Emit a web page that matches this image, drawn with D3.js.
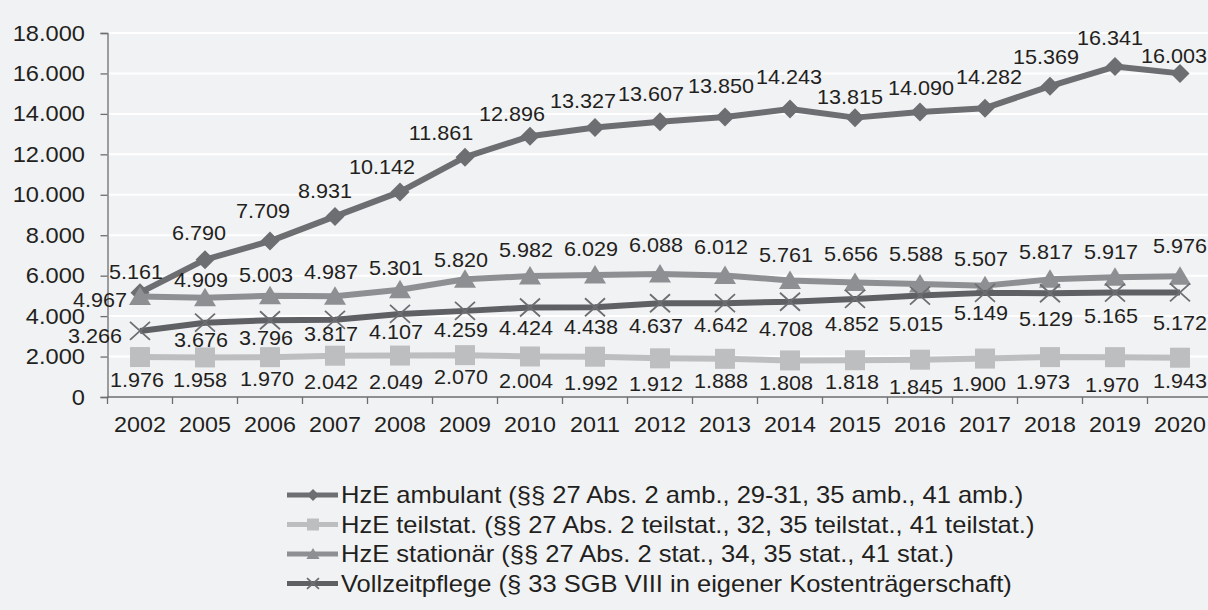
<!DOCTYPE html>
<html>
<head>
<meta charset="utf-8">
<script src="https://cdn.jsdelivr.net/npm/d3@7"></script>
<style>
  body { margin: 0; background: #f1f2f4; }
  svg { display: block; }
  text { font-family: "Liberation Sans", Arial, sans-serif; fill: #231f20; }
</style>
</head>
<body>
<svg id="chart" width="1208" height="610"></svg>
<script>
// Fallzahlen je Hilfeart, 2002 und 2005–2020
const years = ["2002", "2005", "2006", "2007", "2008", "2009", "2010", "2011", "2012",
               "2013", "2014", "2015", "2016", "2017", "2018", "2019", "2020"];
const ambulant = [5161, 6790, 7709, 8931, 10142, 11861, 12896, 13327, 13607,
                  13850, 14243, 13815, 14090, 14282, 15369, 16341, 16003];
const teilstationaer = [1976, 1958, 1970, 2042, 2049, 2070, 2004, 1992, 1912,
                        1888, 1808, 1818, 1845, 1900, 1973, 1970, 1943];
const stationaer = [4967, 4909, 5003, 4987, 5301, 5820, 5982, 6029, 6088,
                    6012, 5761, 5656, 5588, 5507, 5817, 5917, 5976];
const vollzeitpflege = [3266, 3676, 3796, 3817, 4107, 4259, 4424, 4438, 4637,
                        4642, 4708, 4852, 5015, 5149, 5129, 5165, 5172];
const yTicks = [0, 2000, 4000, 6000, 8000, 10000, 12000, 14000, 16000, 18000];
const seriesNames = [
  "HzE ambulant (§§ 27 Abs. 2 amb., 29-31, 35 amb., 41 amb.)",
  "HzE teilstat. (§§ 27 Abs. 2 teilstat., 32, 35 teilstat., 41 teilstat.)",
  "HzE stationär (§§ 27 Abs. 2 stat., 34, 35 stat., 41 stat.)",
  "Vollzeitpflege (§ 33 SGB VIII in eigener Kostenträgerschaft)"
];

// German number format: 16.341
const de = d3.formatLocale({ decimal: ",", thousands: ".", grouping: [3], currency: ["", " €"] });
const fmt = de.format(",d");

// Hand-placed data labels: [dx, dy] from each point (px), keeping labels clear of the lines
const labelNudgeAmbulant = [[-4, -21], [-6, -27], [-7, -30], [-10, -26], [-18, -25], [-24, -24],
  [-18, -22], [-12, -27], [-9, -28], [-4, -31], [-1, -32], [-5, -21], [1, -24], [4, -31],
  [-4, -29], [-5, -29], [0, -18]];
const labelNudgeTeilstat = [[-3, 23], [-5, 22], [-3, 22], [-4, 26], [-4, 26], [-4, 22],
  [-4, 24], [-4, 26], [-4, 25], [-4, 22], [-4, 22], [-3, 22], [-4, 27], [-6, 25],
  [-7, 25], [-3, 28], [0, 23]];
const labelNudgeStationaer = [[-13, 3], [-4, -18], [-4, -21], [-4, -24], [-4, -22], [-4, -20],
  [-4, -26], [-4, -26], [-4, -29], [-4, -29], [-4, -26], [-4, -29], [-4, -30], [-4, -27],
  [-4, -28], [-4, -26], [0, -30]];
const labelNudgeVollzeit = [[-18, 5], [-4, 17], [-4, 18], [-4, 14], [-4, 18], [-4, 19],
  [-4, 20], [-4, 20], [-4, 23], [-4, 22], [-4, 27], [-3, 25], [-4, 28], [-4, 20],
  [-4, 26], [-4, 23], [0, 30]];

// Drawing styles per series
const styles = [
  { values: ambulant,       color: "#6d6e71", marker: "diamond",  nudge: labelNudgeAmbulant },
  { values: teilstationaer, color: "#bdbec0", marker: "square",   nudge: labelNudgeTeilstat },
  { values: stationaer,     color: "#8e8f92", marker: "triangle", nudge: labelNudgeStationaer, firstLeft: true },
  { values: vollzeitpflege, color: "#5f6064", marker: "cross",    nudge: labelNudgeVollzeit, firstLeft: true, markerColor: "#6d6e71" }
];

const svg = d3.select("#chart");
const W = 1208;
const plotLeft = 107.5, bandStep = 65, plotBottom = 397, plotTop = 33;

const x = d3.scaleBand().domain(years).range([plotLeft, plotLeft + bandStep * years.length]);
const y = d3.scaleLinear().domain([0, 18000]).range([plotBottom, plotTop]);
const cx = d => x(d) + x.bandwidth() / 2;

// Text with a slightly wide set (horizontal scale around its anchor point)
function wideText(parent, px, py, str, size, sx, anchor) {
  return parent.append("text")
    .attr("transform", `translate(${px},${py}) scale(${sx},1)`)
    .attr("font-size", size)
    .attr("text-anchor", anchor)
    .attr("dominant-baseline", "central")
    .text(str);
}

// Gridlines
svg.append("g").selectAll("line")
  .data(yTicks.filter(t => t > 0))
  .join("line")
  .attr("x1", plotLeft).attr("x2", W)
  .attr("y1", d => y(d)).attr("y2", d => y(d))
  .attr("stroke", "#ffffff").attr("stroke-width", 2);

// Y axis
const yAxis = svg.append("g")
  .attr("transform", `translate(${plotLeft},0)`)
  .call(d3.axisLeft(y).tickValues(yTicks).tickFormat(fmt).tickSize(7).tickPadding(15));
yAxis.select(".domain").attr("stroke", "#6d6e71").attr("stroke-width", 1.3);
yAxis.selectAll(".tick line").attr("stroke", "#6d6e71").attr("stroke-width", 1.3);
yAxis.selectAll(".tick text")
  .attr("font-size", 22).attr("fill", "#231f20")
  .attr("font-family", "Liberation Sans, Arial, sans-serif")
  .attr("x", -22.5 / 1.075)
  .attr("transform", "scale(1.075,1)");

// X axis: ticks on band boundaries, labels centred on bands
const xAxis = svg.append("g");
xAxis.append("line")
  .attr("x1", plotLeft).attr("x2", W).attr("y1", plotBottom).attr("y2", plotBottom)
  .attr("stroke", "#6d6e71").attr("stroke-width", 1.3);
xAxis.selectAll("line.tk")
  .data(d3.range(years.length + 1))
  .join("line").attr("class", "tk")
  .attr("x1", i => plotLeft + i * x.step()).attr("x2", i => plotLeft + i * x.step())
  .attr("y1", plotBottom).attr("y2", plotBottom + 7)
  .attr("stroke", "#6d6e71").attr("stroke-width", 1.3);
years.forEach(yr => wideText(xAxis, cx(yr), 424.5, yr, 22, 1.06, "middle"));

// Marker shapes
function drawMarker(g, type, color, s) {
  if (type === "diamond") {
    g.append("path").attr("d", `M0,${-s}L${s},0L0,${s}L${-s},0Z`).attr("fill", color);
  } else if (type === "square") {
    g.append("rect").attr("x", -s).attr("y", -s).attr("width", 2 * s).attr("height", 2 * s).attr("fill", color);
  } else if (type === "triangle") {
    g.append("path").attr("d", `M0,${-s}L${s * 1.1},${s * 0.85}L${-s * 1.1},${s * 0.85}Z`).attr("fill", color);
  } else if (type === "cross") {
    g.append("path").attr("d", `M${-s},${-s * 0.9}L${s},${s * 0.9}M${-s},${s * 0.9}L${s},${-s * 0.9}`)
      .attr("stroke", color).attr("stroke-width", 1.8).attr("fill", "none");
  }
}
const markerSize = { diamond: 9.5, square: 10, triangle: 10, cross: 10 };

const line = d3.line().x((d, i) => cx(years[i])).y(d => y(d));

// Series lines and markers
styles.forEach(st => {
  const g = svg.append("g");
  g.append("path")
    .attr("d", line(st.values))
    .attr("fill", "none")
    .attr("stroke", st.color)
    .attr("stroke-width", 6)
    .attr("stroke-linejoin", "round");
  st.values.forEach((v, i) => {
    const m = g.append("g").attr("transform", `translate(${cx(years[i])},${y(v)})`);
    drawMarker(m, st.marker, st.markerColor || st.color, markerSize[st.marker]);
  });
});

// Value labels
const labelScale = 1.08;
styles.forEach(st => {
  const g = svg.append("g");
  st.values.forEach((v, i) => {
    const px = cx(years[i]), py = y(v);
    const [dx, dy] = st.nudge[i];
    const str = fmt(v);
    if (i === 0 && st.firstLeft) {
      wideText(g, px + dx, py + dy, str, 20, labelScale, "end");
    } else if (i === st.values.length - 1) {
      // last column: keep the label inside the right edge
      wideText(g, W - 1, py + dy, str, 20, labelScale, "end");
    } else {
      wideText(g, px + dx, py + dy, str, 20, labelScale, "middle");
    }
  });
});

// Legend
const legend = svg.append("g");
styles.forEach((st, i) => {
  const ly = 495 + i * 29.5;
  const row = legend.append("g").attr("transform", `translate(0,${ly})`);
  row.append("line").attr("x1", 287).attr("x2", 338).attr("y1", 0).attr("y2", 0)
    .attr("stroke", st.color).attr("stroke-width", 5);
  const m = row.append("g").attr("transform", "translate(313,0)");
  drawMarker(m, st.marker, st.markerColor || st.color, 6);
  wideText(row, 341, 0, seriesNames[i], 23, 1.11, "start");
});
</script>
</body>
</html>
